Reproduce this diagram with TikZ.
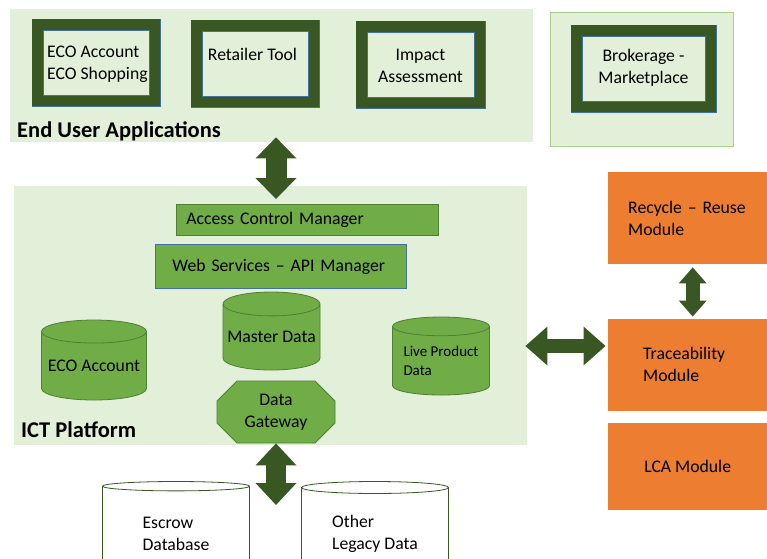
\documentclass[tikz,border=0pt]{standalone}
\usepackage{fontspec}
\setmainfont{Carlito}
\usetikzlibrary{shapes.geometric,shapes.misc,arrows.meta,positioning}
\definecolor{panelgreen}{HTML}{E2F0D9}
\definecolor{panelline}{HTML}{A9D18E}
\definecolor{darkgreen}{HTML}{385723}
\definecolor{midgreen}{HTML}{70AD47}
\definecolor{edgegreen}{HTML}{507E32}
\definecolor{edgeblue}{HTML}{41719C}
\definecolor{orangebox}{HTML}{ED7D31}
\newcommand{\bodysize}{\fontsize{17.7}{22}\selectfont}
\tikzset{
panel/.style = { fill = panelgreen, inner sep = 0pt },
appbox/.style = { fill = panelgreen, draw = edgeblue, line width = 0.6pt, inner sep = 0pt,
  minimum width = #1, minimum height = 65pt,
  preaction = { draw = edgeblue, line width = 23.4pt },
  preaction = { draw = darkgreen, line width = 22pt } },
appbox/.default = 106pt,
apptext/.style = { inner sep = 0pt, font = \bodysize },
title/.style = { inner sep = 0pt, font = \fontsize{22.5}{26}\selectfont\bfseries, anchor = west },
layer/.style = { fill = midgreen, draw = #1, line width = 0.8pt, inner sep = 0pt, align = left, font = \bodysize },
layer/.default = edgegreen,
db/.style = { cylinder, shape border rotate = 90, draw = edgegreen, fill = midgreen, line width = 0.8pt,
  inner sep = 0pt, align = left, font = \bodysize },
legacydb/.style = { db, fill = white, draw = darkgreen },
gateway/.style = { chamfered rectangle, chamfered rectangle xsep = 10pt, chamfered rectangle ysep = 10pt,
  draw = edgegreen, fill = midgreen, line width = 0.8pt, inner sep = 0pt, align = center, font = \bodysize,
  minimum width = 118pt, minimum height = 62pt },
module/.style = { fill = orangebox, inner sep = 0pt, minimum width = 160pt, minimum height = #1,
  anchor = north west, font = \bodysize },
bigarrow/.style = { draw = darkgreen, line width = #1 },
bigarrow/.default = 21pt
}

\begin{document}
\begin{tikzpicture}[x = 1pt, y = -1pt]
\useasboundingbox (0,0) rectangle (767,558);
\clip (0,0) rectangle (767,558);

% panels
\node[panel, anchor = north west, minimum width = 523pt, minimum height = 133pt] (eua) at (10,9) {};
\node[panel, draw = panelline, line width = 1pt, anchor = north west, minimum width = 183pt, minimum height = 134pt] (brokpanel) at (549.5,12) {};
\node[panel, anchor = north west, minimum width = 513pt, minimum height = 259pt] (ict) at (14,186) {};

% end user applications
\node[appbox, anchor = north west] (app1) at (43,30) {};
\node[appbox, anchor = north west] (app2) at (202,31) {};
\node[appbox = 107pt, anchor = north west] (app3) at (367,32) {};
\node[appbox = 123pt, anchor = north west] (brok) at (582,36) {};
\node[apptext, align = left, anchor = west] (app1txt) at (47,64) {ECO Account\\ECO Shopping};
\node[apptext] (app2txt) at (252.5,54) {Retailer Tool};
\node[apptext, align = center] (app3txt) at (420.5,66) {Impact\\Assessment};
\node[apptext, align = center] (broktxt) at (643.5,68) {Brokerage -\\Marketplace};
\node[title] (euatitle) at (17,131) {End User Applications};

% ict platform
\node[layer, anchor = north west, minimum width = 262pt, minimum height = 31pt, text width = 242pt] (acm) at (176,204) {Access Control Manager};
\node[layer = edgeblue, anchor = north west, minimum width = 251pt, minimum height = 44pt, text width = 217pt] (api) at (155,244) {Web Services -- API Manager};
\node[db, minimum width = 97pt, minimum height = 78pt, aspect = 0.27, anchor = shape center] (master) at (271.5,331) {Master Data};
\node[db, minimum width = 105pt, minimum height = 80pt, aspect = 0.25, anchor = shape center] (ecoacc) at (94,360) {ECO Account};
\node[db, minimum width = 97pt, minimum height = 78pt, aspect = 0.25, anchor = shape center, font = \fontsize{15}{18.5}\selectfont] (live) at (441,356) {Live Product\\Data};
\node[gateway] (gw) at (276,412) {Data\\Gateway};
\node[title] (icttitle) at (21,430) {ICT Platform};

% legacy data
\node[legacydb, minimum width = 147pt, minimum height = 99pt, aspect = 0.14, anchor = shape center] (escrow) at (176,531) {Escrow\\Database};
\node[legacydb, minimum width = 147pt, minimum height = 99pt, aspect = 0.14, anchor = shape center] (legacy) at (375,531) {Other\\Legacy Data};

% modules
\node[module = 92pt, align = left, text width = 119pt] (recycle) at (607.5,172) {Recycle -- Reuse\\Module};
\node[module = 92pt, align = left, text width = 89pt] (trace) at (607.5,318.5) {Traceability\\Module};
\node[module = 87pt] (lca) at (607.5,423) {LCA Module};

% arrows
\coordinate (dbend) at (276,505);
\coordinate (harrow) at (0,346);
\draw[bigarrow, {Triangle[length = 21pt, width = 41pt, line width = 0pt]}-{Triangle[length = 21pt, width = 41pt, line width = 0pt]}, shorten > = 5pt]
  ([yshift = 5pt]eua.south -| gw.north) -- (acm.north -| gw.north);
\draw[bigarrow = 20pt, {Triangle[length = 22pt, width = 41pt, line width = 0pt]}-{Triangle[length = 22pt, width = 41pt, line width = 0pt]}]
  (gw.south) -- (dbend);
\draw[bigarrow = 14pt, {Triangle[length = 22pt, width = 39pt, line width = 0pt]}-{Triangle[length = 22pt, width = 39pt, line width = 0pt]}, shorten < = -2pt, shorten > = 2pt]
  (ict.east |- harrow) -- (trace.west |- harrow);
\draw[bigarrow = 14pt, {Triangle[length = 16pt, width = 28pt, line width = 0pt]}-{Triangle[length = 16pt, width = 28pt, line width = 0pt]}, shorten < = 3pt, shorten > = 2pt]
  ([xshift = 5pt]recycle.south) -- ([xshift = 5pt]trace.north);
\end{tikzpicture}
\end{document}
